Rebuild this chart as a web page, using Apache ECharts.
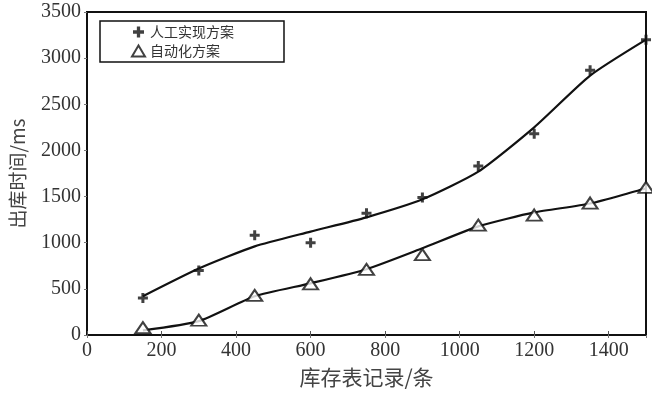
<!DOCTYPE html>
<html><head><meta charset="utf-8">
<script src="https://cdn.jsdelivr.net/npm/echarts@6/dist/echarts.min.js"></script>
<style>html,body{margin:0;padding:0;background:#fff}#c{width:652px;height:393px}</style>
</head><body><div id="c"></div>
<script>
// x values (records)
var records = [150, 300, 450, 600, 750, 900, 1050, 1200, 1350, 1500];
// measured points
var manualPts = [400, 700, 1080, 1000, 1320, 1490, 1830, 2180, 2870, 3200];
var autoPts = [80, 160, 430, 555, 710, 870, 1190, 1300, 1430, 1600];
// fitted curves
var manualFit = [420, 720, 960, 1120, 1275, 1470, 1770, 2250, 2810, 3200];
var autoFit = [50, 150, 420, 560, 713, 940, 1177, 1328, 1425, 1590];
var xTicks = [0, 200, 400, 600, 800, 1000, 1200, 1400];
var yTicks = [0, 500, 1000, 1500, 2000, 2500, 3000, 3500];
var names = ['人工实现方案', '自动化方案'];

function pairs(xs, ys){ return xs.map(function(x,i){ return [x, ys[i]]; }); }
var crossPath = 'path://M3.5,0 L6.5,0 L6.5,3.5 L10,3.5 L10,6.5 L6.5,6.5 L6.5,10 L3.5,10 L3.5,6.5 L0,6.5 L0,3.5 L3.5,3.5 Z';
var serif = 'Liberation Serif';
var cjk = 'Noto Sans CJK SC';
function plain(v){ return String(v); }

var chart = echarts.init(document.getElementById('c'));
chart.setOption({
  animation: false,
  backgroundColor: '#fff',
  grid: {left: 87, right: 6, top: 12, bottom: 57, show: true, borderColor: '#111', borderWidth: 2},
  legend: {
    left: 100, top: 21, orient: 'vertical',
    data: [
      {name: names[0], icon: crossPath, itemStyle: {color: '#111'}},
      {name: names[1], icon: 'triangle', itemStyle: {color: '#fff', borderColor: '#111', borderWidth: 2}}
    ],
    itemWidth: 13, itemHeight: 11, itemGap: 5,
    padding: [4, 50, 4, 31],
    borderColor: '#111', borderWidth: 1.5,
    textStyle: {fontFamily: cjk, fontSize: 14, color: '#333'}
  },
  xAxis: [{
    type: 'value', min: 0, max: 1500, interval: 200,
    name: '库存表记录/条', nameLocation: 'middle', nameGap: 32,
    nameTextStyle: {fontFamily: cjk, fontSize: 21, color: '#444'},
    axisLine: {lineStyle: {color: '#111', width: 2}},
    axisTick: {inside: true, length: 4, lineStyle: {color: '#555'}},
    axisLabel: {fontFamily: serif, fontSize: 20, color: '#333', margin: 6, showMaxLabel: false, formatter: plain},
    splitLine: {show: false}
  }, {
    type: 'value', min: 0, max: 1500, interval: 200, position: 'top',
    axisLine: {show: false}, axisTick: {inside: true, length: 3, lineStyle: {color: '#777'}},
    axisLabel: {show: false}, splitLine: {show: false}
  }],
  yAxis: [{
    type: 'value', min: 0, max: 3500, interval: 500,
    name: '出库时间/ms', nameLocation: 'middle', nameGap: 60,
    nameTextStyle: {fontFamily: cjk, fontSize: 19, color: '#444'},
    axisLine: {lineStyle: {color: '#111', width: 2}},
    axisTick: {show: false},
    axisLabel: {fontFamily: serif, fontSize: 20, color: '#333', margin: 6, formatter: plain},
    splitLine: {show: false}
  }, {
    type: 'value', min: 0, max: 3500, interval: 500, position: 'right',
    axisLine: {show: false}, axisTick: {inside: true, length: 3, lineStyle: {color: '#777'}},
    axisLabel: {show: false}, splitLine: {show: false}
  }],
  series: [
    {name: '拟合1', type: 'line', smooth: 0.2, symbol: 'none', data: pairs(records, manualFit),
     lineStyle: {color: '#111', width: 2.2}, z: 2},
    {name: '拟合2', type: 'line', smooth: 0.2, symbol: 'none', data: pairs(records, autoFit),
     lineStyle: {color: '#111', width: 2.2}, z: 2},
    {name: names[0], type: 'scatter', symbol: crossPath, symbolSize: 10, data: pairs(records, manualPts),
     itemStyle: {color: '#111'}, z: 3},
    {name: names[1], type: 'scatter', symbol: 'triangle', symbolSize: [15, 11], data: pairs(records, autoPts),
     itemStyle: {color: '#fff', borderColor: '#111', borderWidth: 2}, z: 3}
  ]
});
</script></body></html>
